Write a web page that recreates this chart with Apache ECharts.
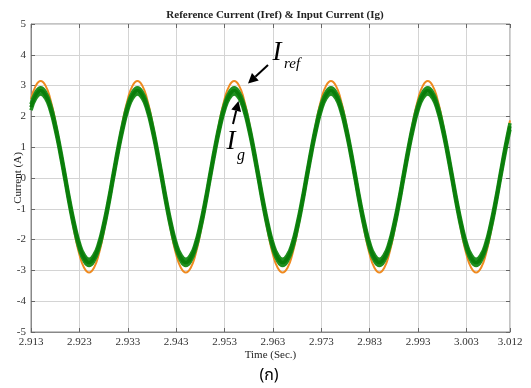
<!DOCTYPE html>
<html>
<head>
<meta charset="utf-8">
<script src="https://cdn.jsdelivr.net/npm/echarts@6/dist/echarts.min.js"></script>
<style>
  html, body { margin: 0; padding: 0; background: #fff; }
  #chart { width: 531px; height: 388px; }
</style>
</head>
<body>
<div id="chart"></div>
<script>
// time axis is plotted as ms after 2.913 s, labels add it back
const T0 = 2.913;

const timeMs = [
  0, 1, 2, 3, 4, 5, 6, 7, 8, 9, 10, 11, 12, 13, 14, 15, 16, 17, 18, 19,
  20, 21, 22, 23, 24, 25, 26, 27, 28, 29, 30, 31, 32, 33, 34, 35, 36, 37, 38, 39,
  40, 41, 42, 43, 44, 45, 46, 47, 48, 49, 50, 51, 52, 53, 54, 55, 56, 57, 58, 59,
  60, 61, 62, 63, 64, 65, 66, 67, 68, 69, 70, 71, 72, 73, 74, 75, 76, 77, 78, 79,
  80, 81, 82, 83, 84, 85, 86, 87, 88, 89, 90, 91, 92, 93, 94, 95, 96, 97, 98, 99
];

// reference current Iref (A)
const iRef = [
  2.56, 3.00, 3.15, 3.00, 2.56, 1.87, 1.00, 0.04, -0.92, -1.79, -2.48, -2.92, -3.07, -2.92, -2.48, -1.79, -0.92, 0.04, 1.00, 1.87,
  2.56, 3.00, 3.15, 3.00, 2.56, 1.87, 1.00, 0.04, -0.92, -1.79, -2.48, -2.92, -3.07, -2.92, -2.48, -1.79, -0.92, 0.04, 1.00, 1.87,
  2.56, 3.00, 3.15, 3.00, 2.56, 1.87, 1.00, 0.04, -0.92, -1.79, -2.48, -2.92, -3.07, -2.92, -2.48, -1.79, -0.92, 0.04, 1.00, 1.87,
  2.56, 3.00, 3.15, 3.00, 2.56, 1.87, 1.00, 0.04, -0.92, -1.79, -2.48, -2.92, -3.07, -2.92, -2.48, -1.79, -0.92, 0.04, 1.00, 1.87,
  2.56, 3.00, 3.15, 3.00, 2.56, 1.87, 1.00, 0.04, -0.92, -1.79, -2.48, -2.92, -3.07, -2.92, -2.48, -1.79, -0.92, 0.04, 1.00, 1.87
];

// input current Ig (A), centre of the ripple band
const iG = [
  2.30, 2.69, 2.83, 2.69, 2.30, 1.68, 0.91, 0.05, -0.82, -1.59, -2.21, -2.60, -2.74, -2.60, -2.21, -1.59, -0.82, 0.05, 0.91, 1.68,
  2.30, 2.69, 2.83, 2.69, 2.30, 1.68, 0.91, 0.05, -0.82, -1.59, -2.21, -2.60, -2.74, -2.60, -2.21, -1.59, -0.82, 0.05, 0.91, 1.68,
  2.30, 2.69, 2.83, 2.69, 2.30, 1.68, 0.91, 0.05, -0.82, -1.59, -2.21, -2.60, -2.74, -2.60, -2.21, -1.59, -0.82, 0.05, 0.91, 1.68,
  2.30, 2.69, 2.83, 2.69, 2.30, 1.68, 0.91, 0.05, -0.82, -1.59, -2.21, -2.60, -2.74, -2.60, -2.21, -1.59, -0.82, 0.05, 0.91, 1.68,
  2.30, 2.69, 2.83, 2.69, 2.30, 1.68, 0.91, 0.05, -0.82, -1.59, -2.21, -2.60, -2.74, -2.60, -2.21, -1.59, -0.82, 0.05, 0.91, 1.68
];

// half of the switching ripple on Ig (A), drawn as two edge lines
const RIPPLE_HALF = 0.1;

const SERIF = "'Liberation Serif', 'DejaVu Serif', serif";
const TICK_COLOR = '#666';
const GRID_COLOR = '#d4d4d4';

const chart = echarts.init(document.getElementById('chart'));

const pairs = (ys) => timeMs.map((t, i) => [t, ys[i]]);

const arrow = (x1, y1, x2, y2) => {
  const dx = x2 - x1, dy = y2 - y1;
  const len = Math.sqrt(dx * dx + dy * dy);
  const ux = dx / len, uy = dy / len;
  const bx = x2 - ux * 10, by = y2 - uy * 10;
  return [
    {
      type: 'line',
      z: 100,
      shape: { x1, y1, x2: bx, y2: by },
      style: { stroke: '#000', lineWidth: 2 },
    },
    {
      type: 'polygon',
      z: 100,
      shape: { points: [[x2, y2], [bx - uy * 5, by + ux * 5], [bx + uy * 5, by - ux * 5]] },
      style: { fill: '#000' },
    },
  ];
};

const label = (text, x, y, size) => ({
  type: 'text',
  z: 100,
  x, y,
  style: {
    text,
    font: `italic ${size}px ${SERIF}`,
    fill: '#000',
    align: 'center',
    verticalAlign: 'middle',
  },
});

const baseX = { type: 'value', min: 0, max: 99, interval: 10 };
const baseY = { type: 'value', min: -5, max: 5, interval: 1 };

const igLine = (name, ys, color, width) => ({
  name,
  type: 'line',
  data: pairs(ys),
  smooth: true,
  showSymbol: false,
  lineStyle: { color, width },
});

chart.setOption({
  animation: false,
  title: {
    text: 'Reference Current (Iref) & Input Current (Ig)',
    left: 270,
    textAlign: 'center',
    top: 5,
    textStyle: { fontFamily: SERIF, fontSize: 11, fontWeight: 'bold', color: '#222' },
  },
  grid: {
    left: 31,
    right: 21,
    top: 24,
    bottom: 56,
    outerBoundsMode: 'none',
    show: true,
    borderColor: '#888',
    borderWidth: 1,
  },
  xAxis: [
    {
      ...baseX,
      name: 'Time (Sec.)',
      nameLocation: 'middle',
      nameGap: 18,
      nameMoveOverlap: false,
      nameTextStyle: { fontFamily: SERIF, fontSize: 11, color: '#222' },
      axisLine: { onZero: false, lineStyle: { color: '#888' } },
      axisTick: { inside: true, length: 4, lineStyle: { color: TICK_COLOR } },
      axisLabel: {
        margin: 5,
        fontFamily: SERIF,
        fontSize: 11,
        color: '#333',
        showMaxLabel: true,
        formatter: (v) => (T0 + v / 1000).toFixed(3),
      },
      splitLine: { lineStyle: { color: GRID_COLOR } },
    },
    {
      ...baseX,
      position: 'top',
      axisLine: { show: false, onZero: false },
      axisTick: { inside: true, length: 4, lineStyle: { color: TICK_COLOR } },
      axisLabel: { show: false },
      splitLine: { show: false },
    },
  ],
  yAxis: [
    {
      ...baseY,
      name: 'Current (A)',
      nameLocation: 'middle',
      nameGap: 7,
      nameMoveOverlap: false,
      nameTextStyle: { fontFamily: SERIF, fontSize: 11, color: '#222' },
      axisLine: { show: true, onZero: false, lineStyle: { color: '#888' } },
      axisTick: { show: true, inside: true, length: 4, lineStyle: { color: TICK_COLOR } },
      axisLabel: { margin: 5, fontFamily: SERIF, fontSize: 11, color: '#333' },
      splitLine: { lineStyle: { color: GRID_COLOR } },
    },
    {
      ...baseY,
      position: 'right',
      axisLine: { show: false, onZero: false },
      axisTick: { show: true, inside: true, length: 4, lineStyle: { color: TICK_COLOR } },
      axisLabel: { show: false },
      splitLine: { show: false },
    },
  ],
  series: [
    {
      name: 'Iref',
      type: 'line',
      data: pairs(iRef),
      smooth: true,
      showSymbol: false,
      lineStyle: { color: '#ef8a1f', width: 2 },
    },
    igLine('Ig upper', iG.map((v) => v + RIPPLE_HALF), '#1f8f1f', 3.5),
    igLine('Ig lower', iG.map((v) => v - RIPPLE_HALF), '#1f8f1f', 3.5),
    igLine('Ig', iG, '#0a7d0a', 3.5),
  ],
  graphic: [
    label('I', 277, 53, 27),
    label('ref', 292, 64, 15),
    label('I', 231, 142, 27),
    label('g', 241, 156, 16),
    ...arrow(268, 65, 248, 83.5),
    ...arrow(233, 124, 238.5, 101),
    {
      type: 'text',
      z: 100,
      x: 269,
      y: 377,
      style: {
        text: '(ก)',
        font: "16px 'Noto Sans Thai', Tahoma, 'DejaVu Sans', 'Noto Sans', sans-serif",
        fill: '#000',
        align: 'center',
        verticalAlign: 'middle',
      },
    },
  ],
});
</script>
</body>
</html>
